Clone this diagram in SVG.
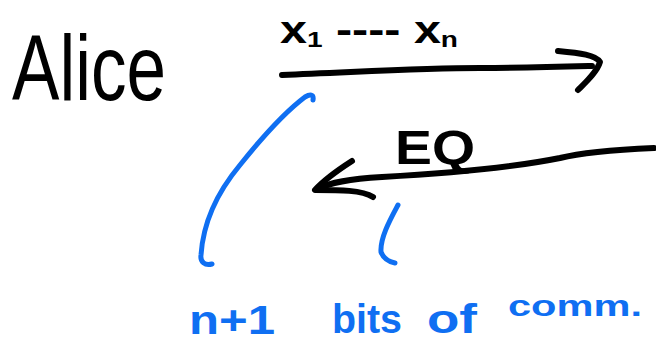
<svg xmlns="http://www.w3.org/2000/svg" width="656" height="346" viewBox="0 0 656 346">
<style>
.ink{fill:none;stroke:#000;stroke-width:6;stroke-linecap:round;stroke-linejoin:round}
.blue{fill:none;stroke:#0f6ff2;stroke-width:5;stroke-linecap:round;stroke-linejoin:round}
.t{font-family:"Liberation Sans","DejaVu Sans",sans-serif;fill:#000}
.bt{font-family:"Liberation Sans","DejaVu Sans",sans-serif;fill:#0f6ff2;font-weight:bold}
</style>
<rect width="656" height="346" fill="#fff"/>
<g id="alice">
<text class="t" x="12" y="100" font-size="92" textLength="154" lengthAdjust="spacingAndGlyphs">Alice</text>
</g>
<g id="connectors">
<g id="msg-x">
<path class="ink" d="M282,75 C360,72 420,68 480,68 C530,68 560,67 592,66"/>
<path class="ink" d="M558,51 C580,53 596,55 600,62 C597,72 586,82 578,90"/>
<text class="t" x="280" y="43" font-size="38" font-weight="bold" textLength="178" lengthAdjust="spacingAndGlyphs">x<tspan font-size="22" dy="4">1</tspan><tspan dy="-4"> ---- x</tspan><tspan font-size="22" dy="4">n</tspan></text>
</g>
<g id="msg-eq">
<path class="ink" d="M654,148 C610,150 580,153 560,158 C500,170 420,175 382,177 C350,179 330,182 318,189"/>
<path class="ink" d="M352,161 C338,170 324,180 315,190 C340,190 362,190 373,197"/>
<text class="t" x="395" y="164" font-size="48" font-weight="bold" textLength="80" lengthAdjust="spacingAndGlyphs">EQ</text>
</g>
</g>
<g id="annotation">
<path class="blue" d="M212,264 C205,266 200,262 201,255 C203,225 215,195 240,165 C260,140 285,112 305,97 C310,94 314,94 313,100"/>
<path class="blue" d="M398,205 C390,220 380,238 381,252 C384,260 390,262 395,263"/>
<text class="bt" x="189" y="334" font-size="40" textLength="86" lengthAdjust="spacingAndGlyphs">n+1</text>
<text class="bt" x="332" y="333" font-size="40" textLength="70" lengthAdjust="spacingAndGlyphs">bits</text>
<text class="bt" x="427" y="333" font-size="40" textLength="50" lengthAdjust="spacingAndGlyphs">of</text>
<text class="bt" x="508" y="316" font-size="30" textLength="134" lengthAdjust="spacingAndGlyphs">comm.</text>
</g>
</svg>
